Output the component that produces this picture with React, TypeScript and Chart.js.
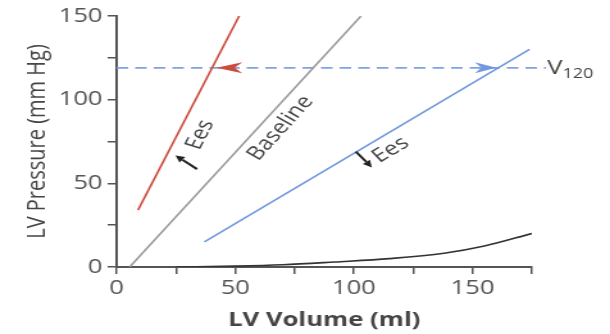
import React, { useEffect, useRef } from 'react';
import { Chart, registerables } from 'chart.js';

Chart.register(...registerables);

// ---- data ----
const xTickValues = [0, 25, 50, 75, 100, 125, 150, 175];
const yTickValues = [0, 25, 50, 75, 100, 125, 150];
const labeledTicks = [0, 50, 100, 150];

const esvprIncreased = [{ x: 9, y: 34 }, { x: 52, y: 151 }];
const esvprBaseline = [{ x: 5.5, y: 0 }, { x: 103, y: 150 }];
const esvprDecreased = [{ x: 37, y: 15 }, { x: 174, y: 130 }];
const edpvr = [
  { x: 25, y: 0 }, { x: 50, y: 0.5 }, { x: 70, y: 1.3 }, { x: 92, y: 3 },
  { x: 115, y: 5 }, { x: 138, y: 8.2 }, { x: 155, y: 12.5 }, { x: 175, y: 20 },
];
const v120Level = 119;
const v120Line = [{ x: 0, y: v120Level }, { x: 181, y: v120Level }];

// arrowheads on the V120 line: tip / back positions (ml)
const levelArrows = [
  { tip: 42, back: 53, color: '#cc4b3b' },
  { tip: 160, back: 151, color: '#6f98df' },
];

// labels placed along lines (index into lineSets)
const lineLabels = [
  { text: 'Ees', x: 35.2, y: 79, line: 0 },
  { text: 'Baseline', x: 69, y: 83, line: 1 },
  { text: 'Ees', x: 115.5, y: 70, line: 2 },
];

// small black arrows (tail -> tip)
const shiftArrows = [
  { fromX: 33.9, fromY: 58.5, toX: 24.8, toY: 66.7 },
  { fromX: 100.8, fromY: 69, toX: 107.6, toY: 59.5 },
];

const lineSets = [esvprIncreased, esvprBaseline, esvprDecreased];

const FONT = '"Open Sans", "Noto Sans", sans-serif';
const INNER_W = 476;
const INNER_H = 334;

const overlay = {
  id: 'overlay',
  afterDatasetsDraw(chart: any) {
    const { ctx, scales } = chart;
    const xs = scales.x;
    const ys = scales.y;
    const px = (v: number) => xs.getPixelForValue(v);
    const py = (v: number) => ys.getPixelForValue(v);

    ctx.save();
    // arrowheads on dashed line
    for (const a of levelArrows) {
      const tx = px(a.tip);
      const bx = px(a.back);
      const yy = py(v120Level);
      const nx = bx + (tx - bx) * 0.3;
      ctx.beginPath();
      ctx.moveTo(tx, yy);
      ctx.lineTo(bx, yy - 5.5);
      ctx.lineTo(nx, yy);
      ctx.lineTo(bx, yy + 5.5);
      ctx.closePath();
      ctx.fillStyle = a.color;
      ctx.fill();
    }

    // labels along lines
    for (const l of lineLabels) {
      const d = lineSets[l.line];
      const ang = Math.atan2(py(d[1].y) - py(d[0].y), px(d[1].x) - px(d[0].x));
      ctx.save();
      ctx.translate(px(l.x), py(l.y));
      ctx.rotate(ang);
      ctx.font = `19px ${FONT}`;
      ctx.fillStyle = '#454545';
      ctx.textAlign = 'center';
      ctx.textBaseline = 'middle';
      ctx.fillText(l.text, 0, 0);
      ctx.restore();
    }

    // small shift arrows
    for (const s of shiftArrows) {
      const x1 = px(s.fromX), y1 = py(s.fromY), x2 = px(s.toX), y2 = py(s.toY);
      const ang = Math.atan2(y2 - y1, x2 - x1);
      const hl = 7, hw = 3.5;
      const bx = x2 - Math.cos(ang) * hl;
      const by = y2 - Math.sin(ang) * hl;
      ctx.strokeStyle = '#222';
      ctx.fillStyle = '#222';
      ctx.lineWidth = 2;
      ctx.beginPath();
      ctx.moveTo(x1, y1);
      ctx.lineTo(bx, by);
      ctx.stroke();
      ctx.beginPath();
      ctx.moveTo(x2, y2);
      ctx.lineTo(bx - Math.sin(ang) * hw, by + Math.cos(ang) * hw);
      ctx.lineTo(bx + Math.sin(ang) * hw, by - Math.cos(ang) * hw);
      ctx.closePath();
      ctx.fill();
    }

    // V120 label
    const lx = px(v120Line[1].x) + 1;
    const ly = py(v120Level);
    ctx.fillStyle = '#454545';
    ctx.textAlign = 'left';
    ctx.textBaseline = 'middle';
    ctx.font = `20px ${FONT}`;
    ctx.fillText('V', lx, ly);
    const vw = ctx.measureText('V').width;
    ctx.font = `14px ${FONT}`;
    ctx.fillText('120', lx + vw, ly + 6);
    ctx.restore();
  },
};

export default function App() {
  const ref = useRef<HTMLCanvasElement | null>(null);

  useEffect(() => {
    if (!ref.current) return;
    const tickCb = (v: any) => (labeledTicks.includes(Number(v)) ? String(v) : '');
    const chart = new Chart(ref.current, {
      type: 'scatter',
      data: {
        datasets: [
          { data: esvprIncreased, showLine: true, borderColor: '#cc4b3b', borderWidth: 1.6, pointRadius: 0 },
          { data: esvprBaseline, showLine: true, borderColor: '#9a9a9a', borderWidth: 1.6, pointRadius: 0 },
          { data: esvprDecreased, showLine: true, borderColor: '#6f98df', borderWidth: 1.6, pointRadius: 0 },
          { data: edpvr, showLine: true, borderColor: '#333', borderWidth: 1.6, pointRadius: 0, cubicInterpolationMode: 'monotone' },
          { data: v120Line, showLine: true, borderColor: '#7fa2e0', borderWidth: 1.6, pointRadius: 0, borderDash: [9, 5.5], clip: false },
        ] as any,
      },
      options: {
        animation: false,
        responsive: false,
        devicePixelRatio: 1,
        layout: { padding: { top: 15, right: 61, bottom: 0, left: 0 } },
        plugins: { legend: { display: false }, tooltip: { enabled: false } },
        scales: {
          x: {
            type: 'linear',
            min: 0,
            max: 175,
            afterBuildTicks: (s: any) => { s.ticks = xTickValues.map((v) => ({ value: v })); },
            afterFit: (s: any) => { s.height = 67; },
            ticks: { autoSkip: false, maxRotation: 0, callback: tickCb, font: { family: FONT, size: 20 }, color: '#555', padding: 2 },
            grid: { drawOnChartArea: false, drawTicks: true, tickLength: 7, color: '#555', lineWidth: 1.5 },
            border: { color: '#555', width: 2 },
            title: { display: true, text: 'LV Volume (ml)', font: { family: FONT, size: 20, weight: 'bold' }, color: '#454545', padding: { top: 0, bottom: 2 } },
          },
          y: {
            type: 'linear',
            min: 0,
            max: 150,
            afterBuildTicks: (s: any) => { s.ticks = yTickValues.map((v) => ({ value: v })); },
            afterFit: (s: any) => { s.width = 91; },
            ticks: { autoSkip: false, callback: tickCb, font: { family: FONT, size: 20 }, color: '#555', padding: 4 },
            grid: { drawOnChartArea: false, drawTicks: true, tickLength: 7, color: '#555', lineWidth: 1.5 },
            border: { color: '#555', width: 2 },
            title: { display: true, text: 'LV Pressure (mm Hg)', font: { family: FONT, size: 20 }, color: '#454545', padding: { top: 17, bottom: 0 } },
          },
        },
      } as any,
      plugins: [overlay],
    });
    return () => chart.destroy();
  }, []);

  return (
    <div style={{ position: 'fixed', left: 0, top: 0, width: 610, height: 334, background: '#fff' }}>
      <canvas
        ref={ref}
        width={INNER_W}
        height={INNER_H}
        style={{ display: 'block', width: '610px', height: '334px' }}
      />
    </div>
  );
}
